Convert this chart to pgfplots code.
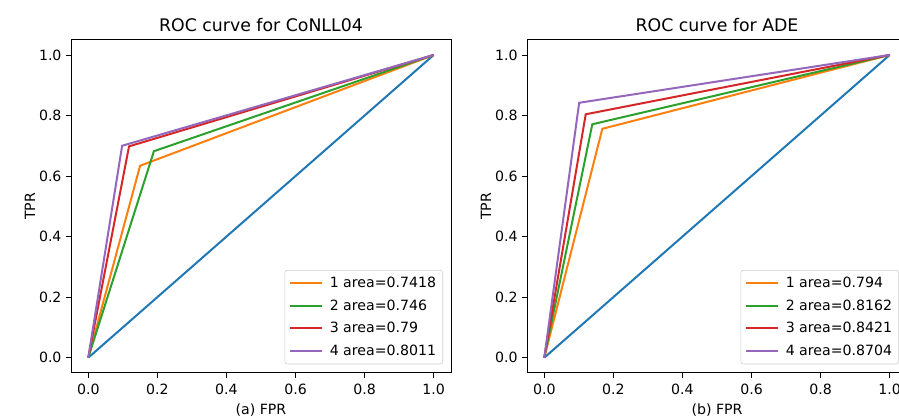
\documentclass[border=0pt]{standalone}
\usepackage{pgfplots}
\pgfplotsset{compat=1.18}
\usepackage{fontspec}
\setmainfont{DejaVu Sans}
\definecolor{tabblue}{HTML}{1F77B4}
\definecolor{taborange}{HTML}{FF7F0E}
\definecolor{tabgreen}{HTML}{2CA02C}
\definecolor{tabred}{HTML}{D62728}
\definecolor{tabpurple}{HTML}{9467BD}
\pgfplotsset{
  every axis title shift=0pt,
  rocstyle/.style={
    scale only axis,
    width=285pt, height=249.75pt,
    xmin=-0.05, xmax=1.05, ymin=-0.05, ymax=1.05,
    xtick={0,0.2,0.4,0.6,0.8,1.0},
    ytick={0,0.2,0.4,0.6,0.8,1.0},
    tick align=outside,
    tick style={black, line width=0.6pt},
    major tick length=3.6pt,
    xtick pos=bottom, ytick pos=left,
    axis line style={line width=0.6pt},
    /pgf/number format/assume math mode=true,
    /pgf/number format/.cd, fixed, fixed zerofill, precision=1, /pgfplots/.cd,
    ticklabel style={font=\fontsize{10.6}{12}\selectfont},
    xticklabel style={yshift=-1.5pt},
    title style={font=\fontsize{13}{15}\selectfont, at={(axis description cs:0.5,1)}, anchor=base, yshift=6.6pt},
    label style={font=\fontsize{10.6}{12}\selectfont},
    xlabel style={at={(axis description cs:0.5,-0.112)}, anchor=center},
    ylabel style={at={(axis description cs:-0.108,0.5)}, anchor=center, rotate=0},
    every axis plot/.append style={line width=1.5pt, mark=none},
    legend cell align=left,
    legend style={at={(1,0)}, anchor=south east, xshift=-6pt, yshift=6.4pt,
      draw=black!20, rounded corners=2pt, font=\fontsize{10.6}{12}\selectfont,
      row sep=3.6pt, column sep=3pt, inner xsep=3pt, inner ysep=3pt},
    legend image code/.code={\draw[#1] (0cm,0cm) -- (0.85cm,0cm);},
  }
}
\begin{document}
\begin{tikzpicture}
\begin{axis}[rocstyle, at={(71*0.75pt,-372.8*0.75pt)}, anchor=south west,
  title={ROC curve for CoNLL04}, xlabel={(a) FPR}, ylabel={TPR}]
\addplot[tabblue, forget plot] coordinates {(0,0) (1,1)};
\addplot[taborange] coordinates {(0,0) (0.150,0.634) (1,1)};
\addlegendentry{1 area=0.7418}
\addplot[tabgreen] coordinates {(0,0) (0.190,0.682) (1,1)};
\addlegendentry{2 area=0.746}
\addplot[tabred] coordinates {(0,0) (0.118,0.698) (1,1)};
\addlegendentry{3 area=0.79}
\addplot[tabpurple] coordinates {(0,0) (0.098,0.700) (1,1)};
\addlegendentry{4 area=0.8011}
\end{axis}
\begin{axis}[rocstyle, at={(527*0.75pt,-372.8*0.75pt)}, anchor=south west,
  title={ROC curve for ADE}, xlabel={(b) FPR}, ylabel={TPR}]
\addplot[tabblue, forget plot] coordinates {(0,0) (1,1)};
\addplot[taborange] coordinates {(0,0) (0.168,0.756) (1,1)};
\addlegendentry{1 area=0.794}
\addplot[tabgreen] coordinates {(0,0) (0.139,0.771) (1,1)};
\addlegendentry{2 area=0.8162}
\addplot[tabred] coordinates {(0,0) (0.120,0.804) (1,1)};
\addlegendentry{3 area=0.8421}
\addplot[tabpurple] coordinates {(0,0) (0.101,0.842) (1,1)};
\addlegendentry{4 area=0.8704}
\end{axis}
\pgfresetboundingbox
\path[use as bounding box] (0,0) rectangle (899*0.75pt,-419*0.75pt);
\end{tikzpicture}
\end{document}
